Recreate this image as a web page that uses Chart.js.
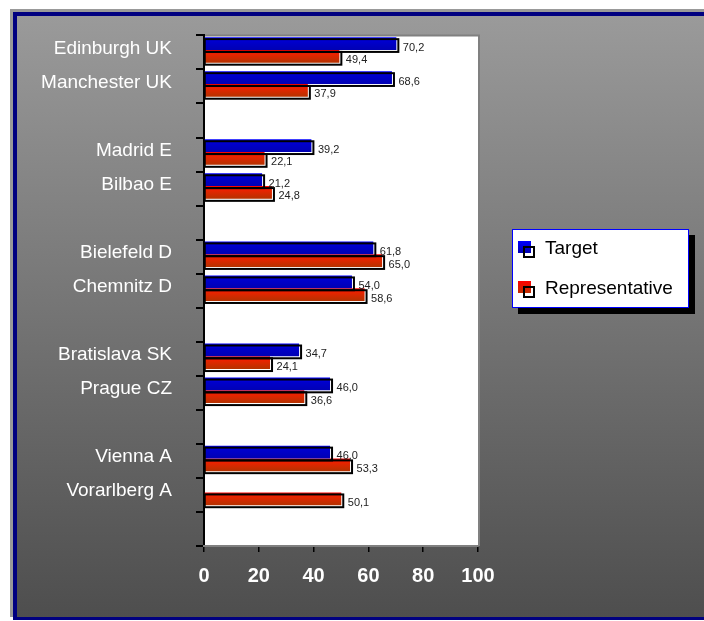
<!DOCTYPE html>
<html><head><meta charset="utf-8">
<script src="https://cdn.jsdelivr.net/npm/chart.js@4.4.1/dist/chart.umd.min.js"></script>
<style>
html,body{margin:0;padding:0;background:#fff;width:704px;height:621px;overflow:hidden;font-family:'Liberation Sans',Arial,sans-serif;}
#outer{position:absolute;left:10px;top:9px;width:694px;height:608px;background:#999;}
#frame{position:absolute;left:13px;top:12px;width:687px;height:601px;border-left:4px solid #000080;border-top:4px solid #000080;border-bottom:3px solid #000080;background:linear-gradient(#9a9a9a,#4e4e4e);}
#c{position:absolute;left:0;top:0;}
#legend{position:absolute;left:512px;top:229px;width:175px;height:77px;background:#fff;border:1px solid #0000ff;box-shadow:6px 6px 0 #000;}
.mk{position:absolute;width:13px;height:12px;}
.mf{position:absolute;width:12px;height:12px;border:2px solid #000;box-sizing:border-box;}
.lt{position:absolute;left:32px;font-size:19px;line-height:22px;color:#000;white-space:nowrap;}
</style></head>
<body>
<div id="outer"></div>
<div id="frame"></div>
<canvas id="c" width="704" height="621"></canvas>
<div id="legend">
  <div class="mk" style="left:5px;top:11px;background:linear-gradient(#0000ff,#0000b0);"></div>
  <div class="mf" style="left:10px;top:16px;"></div>
  <span class="lt" style="top:7px;">Target</span>
  <div class="mk" style="left:5px;top:51px;background:linear-gradient(#ff0000,#c03000);"></div>
  <div class="mf" style="left:10px;top:56px;"></div>
  <span class="lt" style="top:47px;">Representative</span>
</div>
<script>
const categories = ['Edinburgh UK','Manchester UK','','Madrid E','Bilbao E','','Bielefeld D','Chemnitz D','','Bratislava SK','Prague CZ','','Vienna A','Vorarlberg A',''];
const targetValues = [70.2,68.6,null,39.2,21.2,null,61.8,54.0,null,34.7,46.0,null,46.0,null,null];
const representativeValues = [49.4,37.9,null,22.1,24.8,null,65.0,58.6,null,24.1,36.6,null,53.3,50.1,null];
const xTicks = [0,20,40,60,80,100];
const seriesNames = ['Target','Representative'];

const CAT_PCT = 0.75;
const SHIFT = -2.5;
const FONT = "'Liberation Sans', Arial, sans-serif";

function gradientFor(stops){
  return function(ctx){
    const chart = ctx.chart, y = chart.scales.y;
    if (!y || ctx.dataIndex === undefined || !isFinite(y.getPixelForValue(0))) return stops[stops.length-1][1];
    const center = y.getPixelForValue(ctx.dataIndex);
    const band = Math.abs(y.getPixelForValue(1) - y.getPixelForValue(0));
    const h = band * CAT_PCT / 2;
    const top = ctx.datasetIndex === 0 ? center - h : center;
    const g = chart.ctx.createLinearGradient(0, top, 0, top + h);
    stops.forEach(s => g.addColorStop(s[0], s[1]));
    return g;
  };
}

const decor = {
  id: 'decor',
  beforeDraw(chart){
    const a = chart.chartArea, c = chart.ctx;
    c.save();
    c.fillStyle = '#fff';
    c.fillRect(a.left, a.top, a.right - a.left + 2, a.bottom - a.top);
    c.strokeStyle = '#808080'; c.lineWidth = 2;
    c.beginPath(); c.moveTo(a.left, a.top); c.lineTo(a.right + 1, a.top); c.lineTo(a.right + 1, a.bottom); c.stroke();
    c.restore();
  },
  beforeDatasetsDraw(chart){ chart.ctx.save(); chart.ctx.translate(0, SHIFT); },
  afterDatasetsDraw(chart){
    const c = chart.ctx;
    chart.data.datasets.forEach((ds, di) => {
      chart.getDatasetMeta(di).data.forEach((el, i) => {
        if (ds.data[i] == null) return;
        c.strokeStyle = '#000'; c.lineWidth = 2;
        c.strokeRect(el.base, el.y - el.height/2 + 2, el.x + 2 - el.base, el.height);
      });
    });
    c.fillStyle = '#222'; c.font = '11px ' + FONT; c.textBaseline = 'middle'; c.textAlign = 'left';
    chart.data.datasets.forEach((ds, di) => {
      chart.getDatasetMeta(di).data.forEach((el, i) => {
        const v = ds.data[i];
        if (v == null) return;
        c.fillText(v.toFixed(1).replace('.', ','), el.x + 6.5, el.y + 4);
      });
    });
    c.restore();
  }
};

new Chart(document.getElementById('c'), {
  type: 'bar',
  data: {
    labels: categories,
    datasets: [
      { label: seriesNames[0], data: targetValues,
        backgroundColor: gradientFor([[0,'#0000ff'],[0.2,'#0000ee'],[0.35,'#0000cc'],[1,'#0000b4']]) },
      { label: seriesNames[1], data: representativeValues,
        backgroundColor: gradientFor([[0,'#ff0000'],[0.2,'#f21800'],[0.35,'#e82400'],[1,'#b43200']]) }
    ]
  },
  options: {
    indexAxis: 'y',
    responsive: false,
    devicePixelRatio: 1,
    animation: false,
    events: [],
    datasets: { bar: { categoryPercentage: CAT_PCT, barPercentage: 1, borderWidth: 0 } },
    layout: { padding: { left: 0, top: 34, right: 226, bottom: 25 } },
    plugins: { legend: { display: false }, tooltip: { enabled: false } },
    scales: {
      y: {
        grid: { display: true, offset: true, drawOnChartArea: false, color: '#000', lineWidth: 2, tickLength: 8 },
        border: { display: true, color: '#000', width: 2 },
        ticks: { color: '#fff', font: { family: FONT, size: 19 }, padding: 24, labelOffset: -4, autoSkip: false },
        afterFit(s){ s.width = 204; }
      },
      x: {
        min: 0, max: 100,
        afterBuildTicks(s){ s.ticks = xTicks.map(v => ({ value: v })); },
        grid: { drawOnChartArea: false, color: '#000', lineWidth: 1.5, tickLength: 6 },
        border: { display: true, color: '#808080', width: 2 },
        ticks: { color: '#fff', font: { family: FONT, size: 20, weight: 'bold' }, padding: 12 },
        afterFit(s){ s.height = 50; }
      }
    }
  },
  plugins: [decor]
});
</script>
</body></html>
